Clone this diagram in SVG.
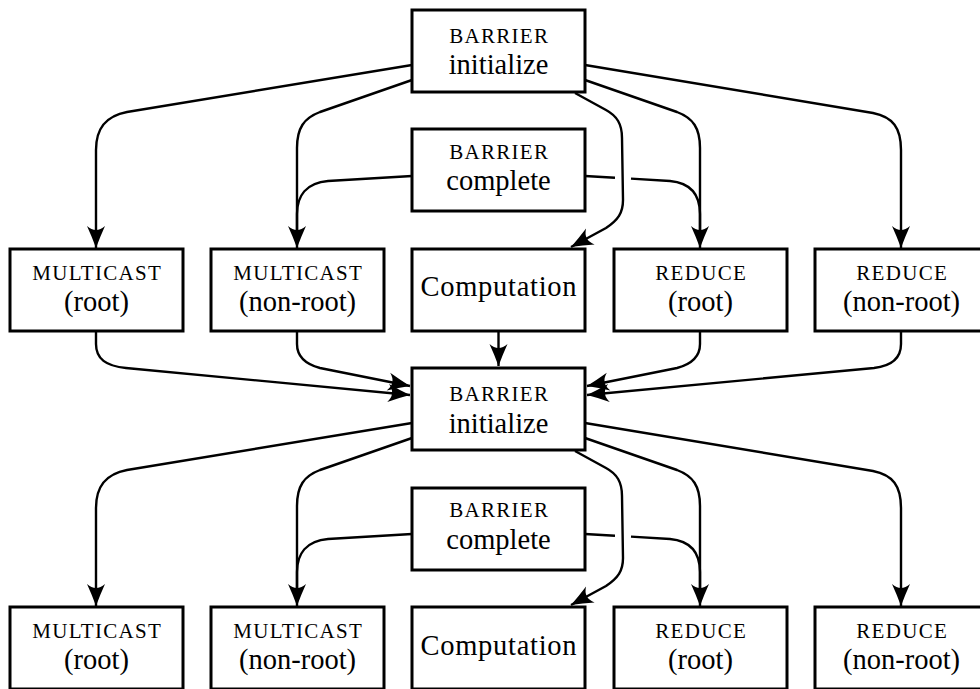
<svg xmlns="http://www.w3.org/2000/svg" width="980" height="689" viewBox="0 0 980 689">
<defs>
<style>
.box{fill:#fff;stroke:#000;stroke-width:3}
.t{font-family:'Liberation Serif','Times New Roman','DejaVu Serif',serif;font-size:28.5px;fill:#000;text-anchor:middle}
.sc{font-family:'Liberation Serif','Times New Roman','DejaVu Serif',serif;font-size:21px;letter-spacing:1.3px;fill:#000;text-anchor:middle}
.c{fill:none;stroke:#000;stroke-width:2.4}
.a{marker-end:url(#arr)}
</style>
<marker id="arr" markerUnits="userSpaceOnUse" markerWidth="26" markerHeight="22" viewBox="0 0 26 22" refX="24" refY="11" orient="auto">
<path d="M24,11 Q13,7 2,2 Q10,11 2,20 Q13,15 24,11 Z" fill="#000"/>
</marker>
</defs>
<rect width="980" height="689" fill="#fff"/>
<g id="connectors">
<g id="level1">
<path class="c a" d="M412,65 L127,112 C106,116 96,128 96,150 L96,248"/>
<path class="c a" d="M412,80 L320,112 C304,118 297,128 297,148 L297,248"/>
<path class="c" d="M412,176 L328,181 C306,183 297,196 297,214 L297,240"/>
<path class="c a" d="M585,65 L873,113 C893,117 901,128 901,150 L901,248"/>
<path class="c a" d="M585,80 L677,112 C693,118 700,128 700,148 L700,248"/>
<path class="c" d="M585,176 L615,177.7 M631,178.6 L670,181 C691,183 700,195 700,214 L700,240"/>
<path class="c a" d="M575,93 L606,110 C617,116 622,124 622,138 L623,200 C623,213 618,220 606,228 L571,247"/>
</g>
<g id="join">
<path class="c a" d="M96,331 L96,344 C96,359 106,366 126,368 L410,395"/>
<path class="c a" d="M297,331 L297,344 C297,357 305,364 320,368 L410,386"/>
<path class="c a" d="M498.5,331 L498.5,366"/>
<path class="c a" d="M700,331 L700,344 C700,357 692,364 677,368 L587,386"/>
<path class="c a" d="M901,331 L901,344 C901,359 891,366 874,368 L587,395"/>
</g>
<g id="level2" transform="translate(0,358)">
<path class="c a" d="M412,65 L127,112 C106,116 96,128 96,150 L96,248"/>
<path class="c a" d="M412,80 L320,112 C304,118 297,128 297,148 L297,248"/>
<path class="c" d="M412,176 L328,181 C306,183 297,196 297,214 L297,240"/>
<path class="c a" d="M585,65 L873,113 C893,117 901,128 901,150 L901,248"/>
<path class="c a" d="M585,80 L677,112 C693,118 700,128 700,148 L700,248"/>
<path class="c" d="M585,176 L615,177.7 M631,178.6 L670,181 C691,183 700,195 700,214 L700,240"/>
<path class="c a" d="M575,93 L606,110 C617,116 622,124 622,138 L623,200 C623,213 618,220 606,228 L571,247"/>
</g>
</g>
<g id="init1"><rect class="box" x="412" y="10" width="173" height="82"/><text class="sc" x="499.2" y="43">BARRIER</text><text class="t" x="498.5" y="74">initialize</text></g>
<g id="complete1"><rect class="box" x="412" y="129" width="173" height="82"/><text class="sc" x="499.2" y="158.5">BARRIER</text><text class="t" x="498.5" y="190">complete</text></g>
<g id="mcroot1"><rect class="box" x="10" y="249" width="173" height="82"/><text class="sc" x="97.2" y="280">MULTICAST</text><text class="t" x="96.5" y="311">(root)</text></g>
<g id="mcnonroot1"><rect class="box" x="211" y="249" width="173" height="82"/><text class="sc" x="298.2" y="280">MULTICAST</text><text class="t" x="297.5" y="311">(non-root)</text></g>
<g id="comp1"><rect class="box" x="412" y="249" width="173" height="82"/><text class="t" x="498.5" y="296" textLength="156" lengthAdjust="spacing">Computation</text></g>
<g id="redroot1"><rect class="box" x="614" y="249" width="173" height="82"/><text class="sc" x="701.2" y="280">REDUCE</text><text class="t" x="700.5" y="311">(root)</text></g>
<g id="rednonroot1"><rect class="box" x="815" y="249" width="173" height="82"/><text class="sc" x="902.2" y="280">REDUCE</text><text class="t" x="901.5" y="311">(non-root)</text></g>
<g id="init2"><rect class="box" x="412" y="368" width="173" height="82"/><text class="sc" x="499.2" y="401">BARRIER</text><text class="t" x="498.5" y="432.5">initialize</text></g>
<g id="complete2"><rect class="box" x="412" y="488" width="173" height="82"/><text class="sc" x="499.2" y="517">BARRIER</text><text class="t" x="498.5" y="548.5">complete</text></g>
<g id="mcroot2"><rect class="box" x="10" y="607" width="173" height="82"/><text class="sc" x="97.2" y="638">MULTICAST</text><text class="t" x="96.5" y="669">(root)</text></g>
<g id="mcnonroot2"><rect class="box" x="211" y="607" width="173" height="82"/><text class="sc" x="298.2" y="638">MULTICAST</text><text class="t" x="297.5" y="669">(non-root)</text></g>
<g id="comp2"><rect class="box" x="412" y="607" width="173" height="82"/><text class="t" x="498.5" y="655" textLength="156" lengthAdjust="spacing">Computation</text></g>
<g id="redroot2"><rect class="box" x="614" y="607" width="173" height="82"/><text class="sc" x="701.2" y="638">REDUCE</text><text class="t" x="700.5" y="669">(root)</text></g>
<g id="rednonroot2"><rect class="box" x="815" y="607" width="173" height="82"/><text class="sc" x="902.2" y="638">REDUCE</text><text class="t" x="901.5" y="669">(non-root)</text></g>
</svg>
